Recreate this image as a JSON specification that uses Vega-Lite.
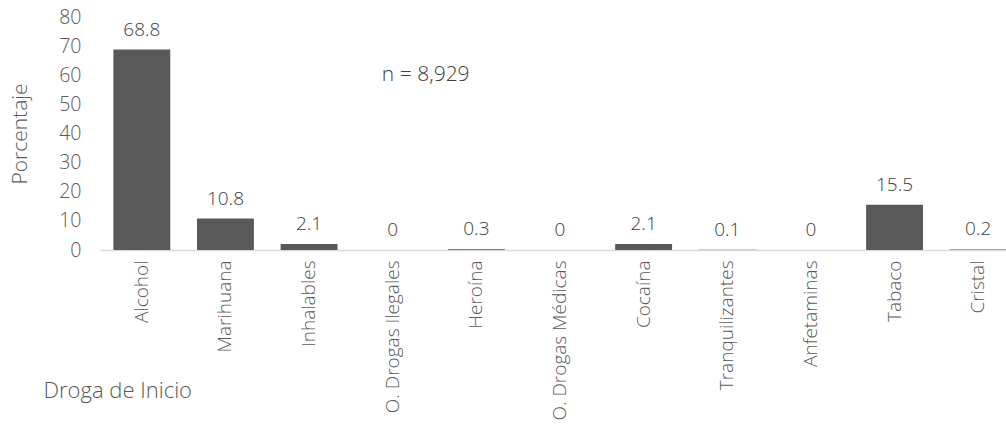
{
  "$schema": "https://vega.github.io/schema/vega-lite/v6.json",
  "width": 906,
  "height": 233,
  "autosize": {"type": "none"},
  "padding": {"left": 100, "top": 17, "right": 0, "bottom": 178},
  "background": "white",
  "config": {
    "view": {"stroke": null},
    "font": "Open Sans",
    "text": {"font": "Open Sans"}
  },
  "data": {
    "values": [
      {"droga": "Alcohol", "pct": 68.8},
      {"droga": "Marihuana", "pct": 10.8},
      {"droga": "Inhalables", "pct": 2.1},
      {"droga": "O. Drogas Ilegales", "pct": 0},
      {"droga": "Heroína", "pct": 0.3},
      {"droga": "O. Drogas Médicas", "pct": 0},
      {"droga": "Cocaína", "pct": 2.1},
      {"droga": "Tranquilizantes", "pct": 0.1},
      {"droga": "Anfetaminas", "pct": 0},
      {"droga": "Tabaco", "pct": 15.5},
      {"droga": "Cristal", "pct": 0.2}
    ]
  },
  "encoding": {
    "x": {
      "field": "droga",
      "type": "nominal",
      "sort": null,
      "scale": {"range": [0, 920], "paddingInner": 0.32, "paddingOuter": 0.16},
      "axis": {
        "title": "Droga de Inicio",
        "titleFont": "Open Sans",
        "titleFontSize": 22,
        "titleFontWeight": 300,
        "titleColor": "#595959",
        "titleAnchor": "start",
        "titleAlign": "left",
        "titleX": -57,
        "titleY": 140,
        "titleBaseline": "middle",
        "labelAngle": -90,
        "labelFont": "Open Sans",
        "labelFontSize": 19,
        "labelFontWeight": 300,
        "labelColor": "#595959",
        "labelPadding": 10,
        "ticks": false,
        "domainColor": "#d9d9d9",
        "domainWidth": 1.5,
        "grid": false
      }
    },
    "y": {
      "field": "pct",
      "type": "quantitative",
      "scale": {"domain": [0, 80]},
      "axis": {
        "title": "Porcentaje",
        "titleFont": "Open Sans",
        "titleFontSize": 21,
        "titleFontWeight": 300,
        "titleColor": "#595959",
        "titlePadding": 28,
        "values": [0, 10, 20, 30, 40, 50, 60, 70, 80],
        "labelFont": "Open Sans",
        "labelFontSize": 19.5,
        "labelFontWeight": 300,
        "labelColor": "#595959",
        "labelPadding": 19,
        "ticks": false,
        "domain": false,
        "grid": false
      }
    }
  },
  "layer": [
    {
      "mark": {"type": "bar", "color": "#595959"}
    },
    {
      "mark": {"type": "text", "baseline": "bottom", "dy": -10, "fontSize": 19, "fontWeight": 300, "color": "#404040", "font": "Open Sans"},
      "encoding": {"text": {"field": "pct", "type": "quantitative"}}
    },
    {
      "data": {"values": [{"label": "n = 8,929", "droga": "O. Drogas Ilegales", "y": 60}]},
      "mark": {"type": "text", "dx": 33, "fontSize": 21, "fontWeight": 300, "color": "#404040", "font": "Open Sans", "baseline": "middle"},
      "encoding": {
        "x": {"field": "droga", "type": "nominal"},
        "y": {"field": "y", "type": "quantitative"},
        "text": {"field": "label"}
      }
    }
  ]
}
